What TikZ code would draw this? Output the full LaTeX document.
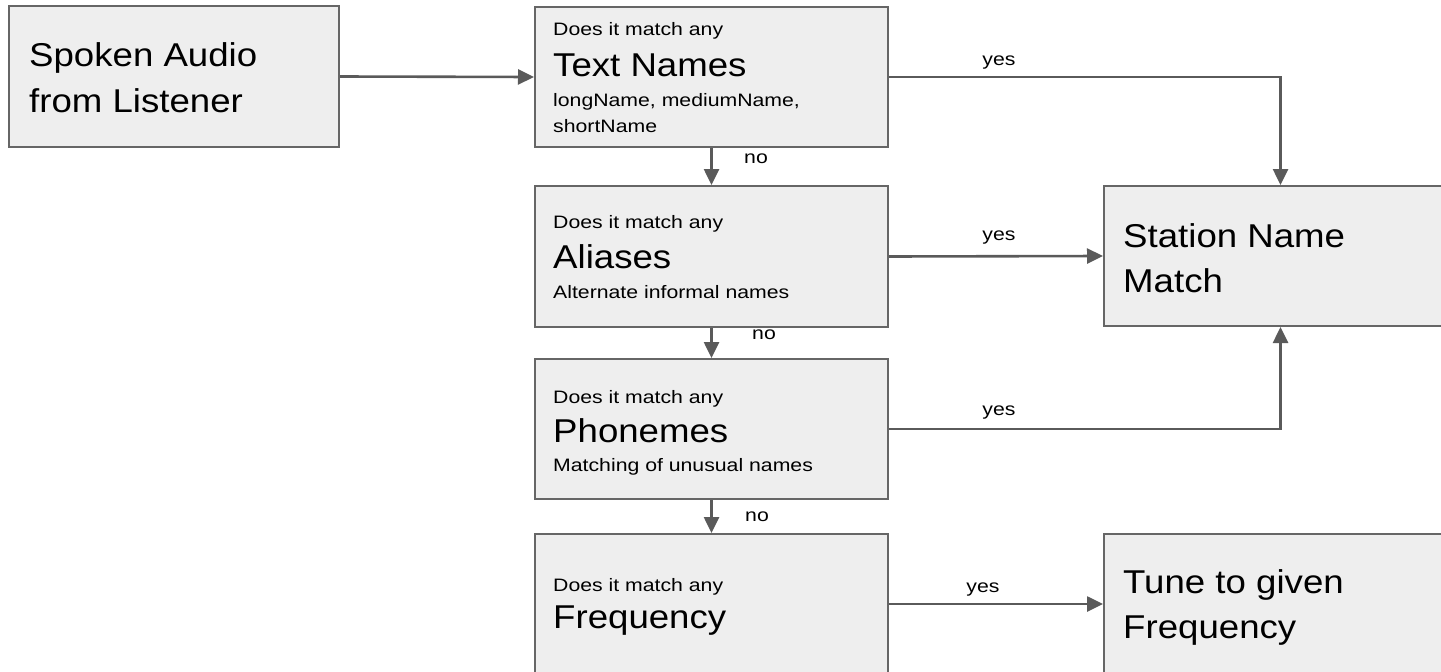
\documentclass[tikz,border=0pt]{standalone}
\usepackage{fontspec}
\setmainfont{Liberation Sans}
\newfontfamily\bigf[FakeStretch=1.11]{Liberation Sans}
\newfontfamily\smallf[FakeStretch=1.18]{Liberation Sans}
\usetikzlibrary{arrows.meta}
\definecolor{boxfill}{HTML}{EEEEEE}
\definecolor{boxline}{HTML}{666666}
\definecolor{arrowc}{HTML}{5A5A5A}
\begin{document}
\begin{tikzpicture}[x=1pt,y=-1pt,
 box/.style={draw=boxline, line width=2pt, fill=boxfill, inner sep=0pt, anchor=north west},
 big/.style={anchor=base west, inner sep=0pt, font=\bigf\fontsize{33}{38}\selectfont},
 small/.style={anchor=base west, inner sep=0pt, font=\smallf\fontsize{18}{20}\selectfont},
 lab/.style={anchor=base, inner sep=0pt, font=\smallf\fontsize{18}{20}\selectfont},
 nolab/.style={anchor=center, inner sep=0pt, font=\smallf\fontsize{18}{20}\selectfont},
 conn/.style={draw=arrowc, line width=2.6pt, -{Triangle[length=16pt,width=15pt]}}]
\useasboundingbox (0,0) rectangle (1441,672);
\clip (0,0) rectangle (1441,672);
% boxes
\node[box, minimum width=330pt, minimum height=141pt] (sa) at (8,5) {};
\node[box, minimum width=353pt, minimum height=140pt] (tn) at (534,6) {};
\node[box, minimum width=353pt, minimum height=141pt] (al) at (534,185) {};
\node[box, minimum width=353pt, minimum height=140pt] (ph) at (534,358) {};
\node[box, minimum width=353pt, minimum height=140pt] (fr) at (534,533) {};
\node[box, minimum width=353pt, minimum height=140pt] (sm) at (1103,185) {};
\node[box, minimum width=353pt, minimum height=140pt] (tu) at (1103,533) {};
% texts
\node[big] (sa1) at (29,66) {Spoken Audio};
\node[big] (sa2) at (29,112) {from Listener};
\node[small] (tn1) at (553,35) {Does it match any};
\node[big] (tn2) at (553,76) {Text Names};
\node[small] (tn3) at (553,106) {longName, mediumName,};
\node[small] (tn4) at (553,132) {shortName};
\node[small] (al1) at (553,228) {Does it match any};
\node[big] (al2) at (553,268) {Aliases};
\node[small] (al3) at (553,298) {Alternate informal names};
\node[small] (ph1) at (553,403) {Does it match any};
\node[big] (ph2) at (553,442) {Phonemes};
\node[small] (ph3) at (553,471) {Matching of unusual names};
\node[small] (fr1) at (553,591) {Does it match any};
\node[big] (fr2) at (553,628) {Frequency};
\node[big] (sm1) at (1123,247) {Station Name};
\node[big] (sm2) at (1123,292) {Match};
\node[big] (tu1) at (1123,593) {Tune to given};
\node[big] (tu2) at (1123,638) {Frequency};
% connectors
\draw[conn] (sa.east) -- (tn.west);
\draw[conn] (tn.south) -- (al.north);
\draw[conn] (al.south) -- (ph.north);
\draw[conn] (ph.south) -- (fr.north);
\draw[conn] (tn.east) -| (sm.north);
\draw[conn] (al.east) -- (sm.west);
\draw[conn] (ph.east) -| (sm.south);
\draw[conn] (fr.east) -- (tu.west);
% labels
\node[nolab] (no1) at (756,159) {no};
\node[nolab] (no2) at (764,335) {no};
\node[nolab] (no3) at (757,517) {no};
\node[lab] (y1) at (999,65) {yes};
\node[lab] (y2) at (999,240) {yes};
\node[lab] (y3) at (999,415) {yes};
\node[lab] (y4) at (983,592) {yes};
\end{tikzpicture}
\end{document}
